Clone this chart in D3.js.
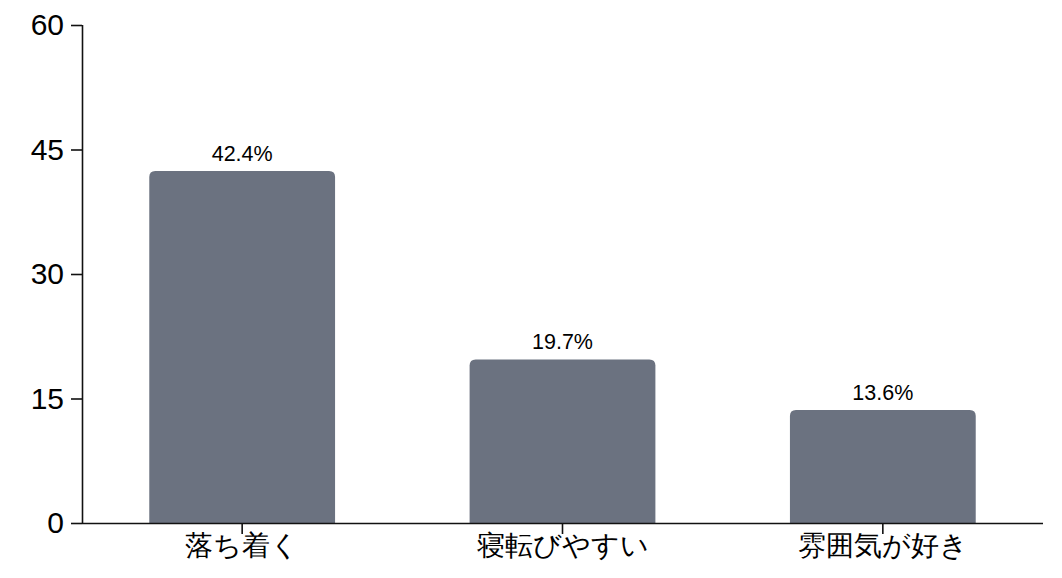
<!DOCTYPE html>
<html lang="ja">
<head>
  <meta charset="UTF-8">
  <title>Bar chart</title>
  <script src="https://d3js.org/d3.v7.min.js"></script>
  <style>
    body {
      margin: 0;
      background: #fff;
      font-family: "Liberation Sans", "Noto Sans CJK JP", sans-serif;
    }
    .axis path, .axis line {
      stroke: #111;
      stroke-width: 1.6px;
    }
    .axis text {
      fill: #000;
    }
    .y-axis text {
      font-size: 30px;
    }
    .x-axis text {
      font-size: 28px;
    }
    .bar-label {
      font-size: 21.5px;
      fill: #000;
    }
  </style>
</head>
<body>
<svg width="1062" height="578"></svg>
<script>
  // Data
  const categories = ["落ち着く", "寝転びやすい", "雰囲気が好き"];
  const values = [42.4, 19.7, 13.6];
  const yTicks = [0, 15, 30, 45, 60];

  const svg = d3.select("svg");
  const margin = {top: 25, right: 19, bottom: 55, left: 82};
  const width = 1062 - margin.left - margin.right;
  const height = 578 - margin.top - margin.bottom;

  const g = svg.append("g")
    .attr("transform", `translate(${margin.left},${margin.top})`);

  const x = d3.scaleBand()
    .domain(categories)
    .range([0, width])
    .paddingInner(0.42)
    .paddingOuter(0.21);

  const y = d3.scaleLinear()
    .domain([0, 60])
    .range([height, 0]);

  // Bars with rounded top corners
  const r = 6;
  g.selectAll("path.bar")
    .data(values)
    .join("path")
    .attr("class", "bar")
    .attr("fill", "#6b7280")
    .attr("d", (d, i) => {
      const x0 = x(categories[i]), w = x.bandwidth();
      const y0 = y(d), y1 = y(0);
      return `M${x0},${y1}V${y0 + r}Q${x0},${y0} ${x0 + r},${y0}` +
             `H${x0 + w - r}Q${x0 + w},${y0} ${x0 + w},${y0 + r}V${y1}Z`;
    });

  // Value labels
  g.selectAll("text.bar-label")
    .data(values)
    .join("text")
    .attr("class", "bar-label")
    .attr("text-anchor", "middle")
    .attr("x", (d, i) => x(categories[i]) + x.bandwidth() / 2)
    .attr("y", d => y(d) - 10)
    .text(d => d.toFixed(1) + "%");

  // Axes
  g.append("g")
    .attr("class", "axis y-axis")
    .call(d3.axisLeft(y).tickValues(yTicks).tickSize(11).tickPadding(7))
    .call(a => a.select(".domain").attr("d", `M0.5,0V${height}`));

  g.append("g")
    .attr("class", "axis x-axis")
    .attr("transform", `translate(0,${height})`)
    .call(d3.axisBottom(x).tickSize(11).tickPadding(1))
    .call(a => a.select(".domain").attr("d", `M0,0.5H${width}`));
</script>
</body>
</html>
